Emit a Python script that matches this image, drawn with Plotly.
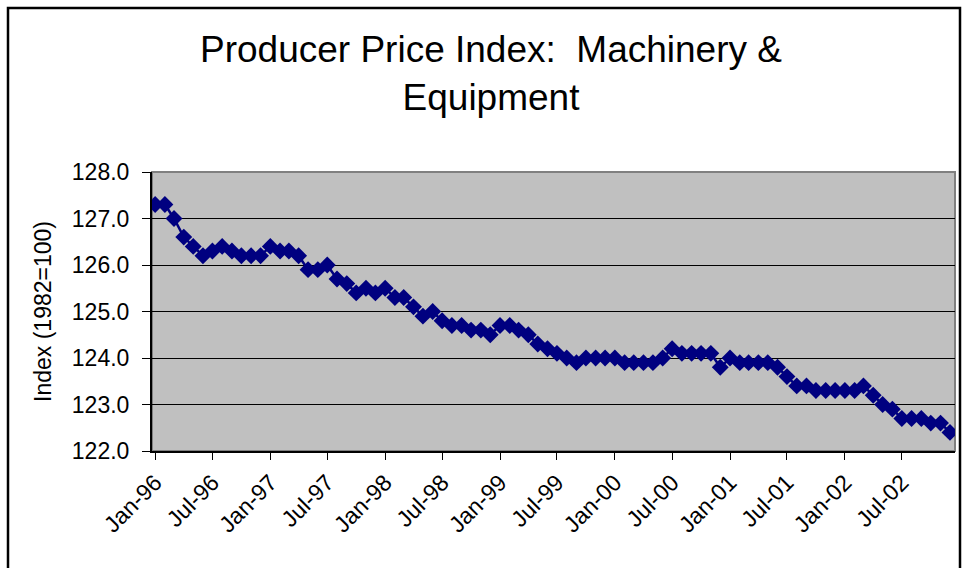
import pandas as pd
import plotly.graph_objects as go

# Monthly categories Jan-1996 .. Dec-2002
months = pd.date_range("1996-01-01", periods=84, freq="MS")

ppi_1996 = [127.3, 127.3, 127.0, 126.6, 126.4, 126.2, 126.3, 126.4, 126.3, 126.2, 126.2, 126.2]
ppi_1997 = [126.4, 126.3, 126.3, 126.2, 125.9, 125.9, 126.0, 125.7, 125.6, 125.4, 125.5, 125.4]
ppi_1998 = [125.5, 125.3, 125.3, 125.1, 124.9, 125.0, 124.8, 124.7, 124.7, 124.6, 124.6, 124.5]
ppi_1999 = [124.7, 124.7, 124.6, 124.5, 124.3, 124.2, 124.1, 124.0, 123.9, 124.0, 124.0, 124.0]
ppi_2000 = [124.0, 123.9, 123.9, 123.9, 123.9, 124.0, 124.2, 124.1, 124.1, 124.1, 124.1, 123.8]
ppi_2001 = [124.0, 123.9, 123.9, 123.9, 123.9, 123.8, 123.6, 123.4, 123.4, 123.3, 123.3, 123.3]
ppi_2002 = [123.3, 123.3, 123.4, 123.2, 123.0, 122.9, 122.7, 122.7, 122.7, 122.6, 122.6, 122.4]

ppi = ppi_1996 + ppi_1997 + ppi_1998 + ppi_1999 + ppi_2000 + ppi_2001 + ppi_2002

title_text = "Producer Price Index:  Machinery &<br>Equipment"
y_title = "Index (1982=100)"

FONT = "Liberation Sans, Arial, sans-serif"

fig = go.Figure()
fig.add_trace(go.Scatter(
    x=months, y=ppi, mode="lines+markers",
    line=dict(color="#000080", width=2.5),
    marker=dict(symbol="diamond", size=13, color="#000080"),
    showlegend=False,
))

# plot-area border (grey top/right like Excel)
fig.add_shape(type="rect", xref="paper", yref="paper", x0=0, x1=1, y0=0, y1=1,
              line=dict(color="#808080", width=2), layer="between")

# outer chart frame
L, R, T, B = 152, 955, 172, 451
W, H = 962, 568
pw, ph = R - L, B - T
fig.add_shape(type="rect", xref="paper", yref="paper",
              x0=(8 - L) / pw, x1=(960 - L) / pw,
              y0=(B - 600) / ph, y1=(B - 8) / ph,
              line=dict(color="black", width=2.5), layer="above")

fig.update_layout(
    width=W, height=H,
    margin=dict(l=L, r=W - R, t=T, b=H - B, pad=0),
    paper_bgcolor="white", plot_bgcolor="#C0C0C0",
    font=dict(family=FONT, color="black", size=23),
    title=dict(text=title_text, x=491 / W, xanchor="center", xref="container",
               y=1 - 62 / H, yanchor="top", yref="container",
               font=dict(size=37, family=FONT)),
)
fig.update_xaxes(
    range=["1995-12-22", "2002-12-17"],
    tickformat="%b-%y", dtick="M6", tick0="1996-01-01", tickangle=-45,
    ticks="outside", ticklen=7, tickcolor="black", tickwidth=1,
    showgrid=False, showline=True, linecolor="black", linewidth=2,
    tickfont=dict(size=23), zeroline=False,
)
fig.update_yaxes(
    range=[122, 128], dtick=1, tickformat=".1f",
    ticks="outside", ticklen=8, tickcolor="black", tickwidth=1,
    ticklabelstandoff=8,
    showgrid=True, gridcolor="black", gridwidth=1,
    showline=True, linecolor="black", linewidth=2,
    tickfont=dict(size=23), zeroline=False,
    title=dict(text=y_title, font=dict(size=23), standoff=14),
)

fig.write_html("out.html", config={"displayModeBar": False},
               post_script="document.body.style.margin='0';")
